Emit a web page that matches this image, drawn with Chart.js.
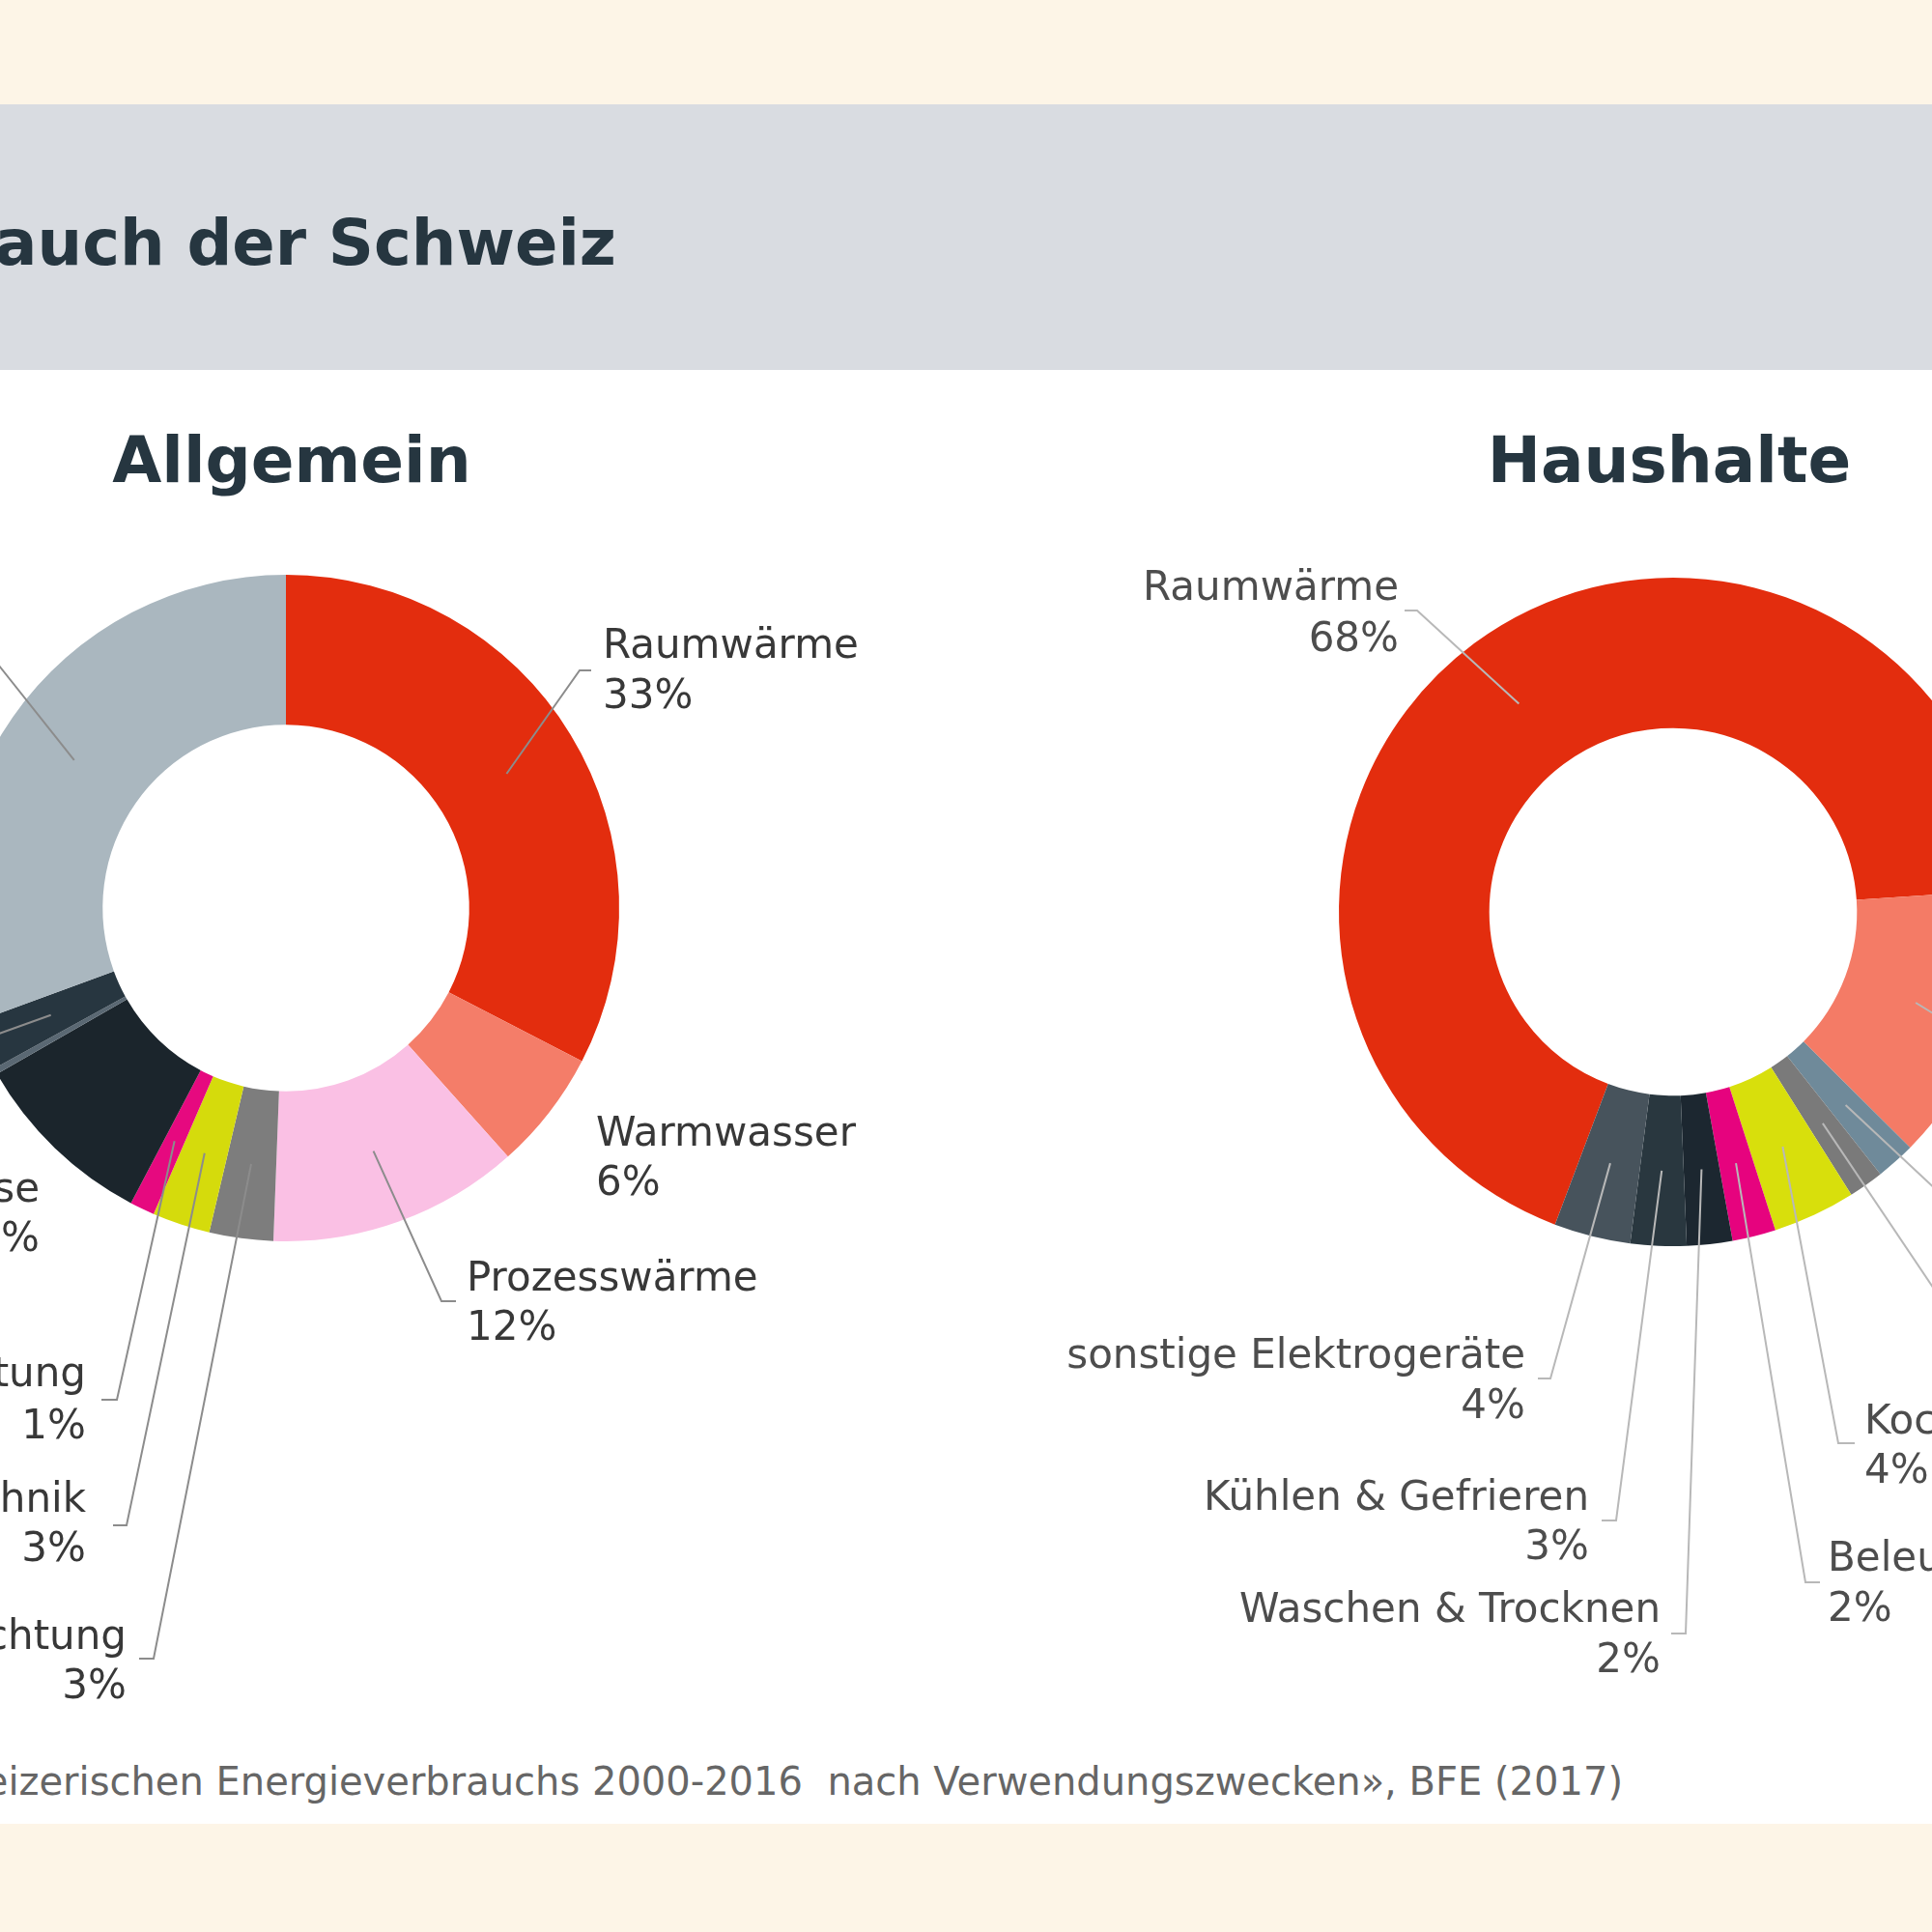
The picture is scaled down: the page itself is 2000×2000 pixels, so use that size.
<!DOCTYPE html>
<html>
<head>
<meta charset="utf-8">
<script src="https://cdn.jsdelivr.net/npm/chart.js@4.4.1/dist/chart.umd.min.js"></script>
<style>
  html, body { margin:0; padding:0; }
  body { width:2000px; height:2000px; position:relative; overflow:hidden; background:#ffffff; font-family:"DejaVu Sans", Verdana, sans-serif; }
  .band { position:absolute; left:0; width:2000px; }
  .txt { position:absolute; white-space:nowrap; }
  .chartbox { position:absolute; width:1200px; height:1600px; }
</style>
</head>
<body>
<div class="band" style="top:0;height:108px;background:#fdf5e7;"></div>
<div class="band" style="top:108px;height:275px;background:#d9dce1;"></div>
<div class="band" style="top:1888px;height:112px;background:#fdf5e7;"></div>

<div class="txt" id="title" style="right:1362px;top:251px;transform:translateY(-50%);font-weight:bold;font-size:65.5px;color:#263640;">Energieverbrauch der Schweiz</div>
<div class="txt" style="left:302px;top:476px;transform:translate(-50%,-50%);font-weight:bold;font-size:66px;color:#263640;">Allgemein</div>
<div class="txt" style="left:1728px;top:476px;transform:translate(-50%,-50%);font-weight:bold;font-size:66px;color:#263640;">Haushalte</div>
<div class="txt" style="right:320px;top:1844px;transform:translateY(-50%);font-size:40px;color:#666666;">Quelle: «Analyse des schweizerischen Energieverbrauchs 2000-2016&nbsp; nach Verwendungszwecken», BFE (2017)</div>

<div class="chartbox" style="left:-200px;top:400px;"><canvas id="cLeft"></canvas></div>
<div class="chartbox" style="left:1100px;top:400px;"><canvas id="cRight"></canvas></div>

<script>
// ---------- DATA ----------
const allgemeinCategories = ["Raumwärme", "Warmwasser", "Prozesswärme", "Beleuchtung", "Klima, Lüftung & Haustechnik", "I&K, Unterhaltung", "Antriebe, Prozesse", "übrige", "sonstige", "Mobilität Inland"];
const allgemeinValues = [32.6, 5.8, 12.2, 3.1, 2.8, 1.2, 9.0, 0.3, 2.4, 30.6];
const allgemeinColors = ["#e32d0e", "#f47d69", "#fac0e4", "#7d7d7d", "#d5db0c", "#e6097f", "#1b252c", "#5a6873", "#273640", "#aab7bf"];

const haushalteCategories = ["Raumwärme", "Warmwasser", "Klima, Lüftung & Haustechnik", "Unterhaltung, I&K", "Kochen", "Beleuchtung", "Waschen & Trocknen", "Kühlen & Gefrieren", "sonstige Elektrogeräte"];
const haushalteValues = [68.2, 13.5, 1.9, 1.7, 4.0, 2.1, 2.2, 2.7, 3.7];
const haushalteColors = ["#e32d0e", "#f47b66", "#6f8a9a", "#7a7a7a", "#d8df0c", "#e6037e", "#1c2730", "#29373f", "#47535c"];

// ---------- LABEL LAYOUT (page coordinates) ----------
const leftLayout = [
  {index:0, align:"left",  x:624, y1:670,  y2:722,  elbow:[600,694],  stub:[612,694]},
  {index:1, align:"left",  x:617, y1:1175, y2:1226},
  {index:2, align:"left",  x:483, y1:1325, y2:1376, elbow:[457,1347], stub:[472,1347]},
  {index:3, align:"right", x:131, y1:1696, y2:1747, elbow:[159,1717], stub:[144,1717]},
  {index:4, align:"right", x:89,  y1:1554, y2:1605, elbow:[131,1579], stub:[117,1579]},
  {index:5, align:"right", x:89,  y1:1424, y2:1478, elbow:[121,1449], stub:[105,1449]},
  {index:6, align:"right", x:41,  y1:1233, y2:1284},
  {index:8, align:"right", x:-60, y1:1060, y2:1112, elbow:[-40,1084]},
  {index:9, align:"right", x:-60, y1:610,  y2:662,  elbow:[-40,640]}
];
const rightLayout = [
  {index:0, align:"right", x:1448, y1:610,  y2:663,  elbow:[1467,632],  stub:[1454,632]},
  {index:1, align:"left",  x:2120, y1:1090, y2:1142, elbow:[2100,1110]},
  {index:2, align:"left",  x:2120, y1:1300, y2:1352, elbow:[2100,1321]},
  {index:3, align:"left",  x:2120, y1:1460, y2:1512, elbow:[2100,1480]},
  {index:4, align:"left",  x:1930, y1:1473, y2:1524, elbow:[1903,1494], stub:[1920,1494]},
  {index:5, align:"left",  x:1892, y1:1615, y2:1667, elbow:[1869,1638], stub:[1884,1638]},
  {index:6, align:"right", x:1719, y1:1668, y2:1720, elbow:[1745,1691], stub:[1730,1691]},
  {index:7, align:"right", x:1645, y1:1552, y2:1603, elbow:[1673,1574], stub:[1658,1574]},
  {index:8, align:"right", x:1579, y1:1405, y2:1457, elbow:[1605,1427], stub:[1592,1427]}
];

const leaderPlugin = {
  id: 'leaderLabels',
  afterDatasetsDraw(chart, args, opts) {
    const ctx = chart.ctx;
    const meta = chart.getDatasetMeta(0);
    const names = chart.data.labels;
    const values = chart.data.datasets[0].data;
    const ox = opts.offsetX, oy = opts.offsetY;
    ctx.save();
    opts.items.forEach(it => {
      const arc = meta.data[it.index];
      const p = arc.getProps(['x','y','startAngle','endAngle','innerRadius','outerRadius'], true);
      const mid = (p.startAngle + p.endAngle) / 2;
      const r = (p.innerRadius + p.outerRadius) / 2;
      const sx = p.x + Math.cos(mid) * r, sy = p.y + Math.sin(mid) * r;
      if (it.elbow) {
        ctx.beginPath();
        ctx.moveTo(sx, sy);
        ctx.lineTo(it.elbow[0] - ox, it.elbow[1] - oy);
        if (it.stub) ctx.lineTo(it.stub[0] - ox, it.stub[1] - oy);
        ctx.strokeStyle = opts.lineColor;
        ctx.lineWidth = 2;
        ctx.stroke();
      }
      ctx.fillStyle = opts.textColor;
      ctx.font = opts.font;
      ctx.textAlign = it.align;
      ctx.textBaseline = 'middle';
      ctx.fillText(names[it.index], it.x - ox, it.y1 - oy);
      ctx.fillText(Math.round(values[it.index]) + '%', it.x - ox, it.y2 - oy);
    });
    ctx.restore();
  }
};

function makeChart(id, cats, vals, cols, rotation, padding, layout, offX, offY, textColor, lineColor) {
  return new Chart(document.getElementById(id), {
    type: 'doughnut',
    data: { labels: cats, datasets: [{ data: vals, backgroundColor: cols, borderWidth: 0, hoverOffset: 0, offset: 0 }] },
    options: {
      responsive: true,
      maintainAspectRatio: false,
      animation: false,
      cutout: '55%',
      rotation: rotation,
      layout: { padding: padding },
      events: [],
      plugins: {
        legend: { display: false },
        tooltip: { enabled: false },
        leaderLabels: { items: layout, offsetX: offX, offsetY: offY, textColor: textColor, lineColor: lineColor, font: '42px "DejaVu Sans", Verdana, sans-serif' }
      }
    },
    plugins: [leaderPlugin]
  });
}

makeChart('cLeft', allgemeinCategories, allgemeinValues, allgemeinColors, 0,
  {left:151, right:359, top:195, bottom:715}, leftLayout, -200, 400, '#383838', '#8c8c8c');
makeChart('cRight', haushalteCategories, haushalteValues, haushalteColors, 200.7,
  {left:286, right:222, top:198, bottom:710}, rightLayout, 1100, 400, '#4d4d4d', '#b8b8b8');
</script>
</body>
</html>
